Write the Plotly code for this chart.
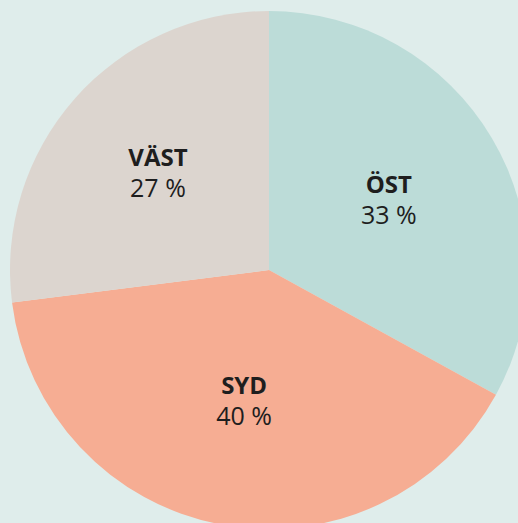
import plotly.graph_objects as go

labels = ["ÖST", "SYD", "VÄST"]
values = [33, 40, 27]
colors = ["#bcdcd8", "#f6ad93", "#dcd5cf"]

fig = go.Figure(go.Pie(
    labels=labels,
    values=values,
    sort=False,
    direction="clockwise",
    rotation=0,
    marker=dict(colors=colors, line=dict(width=0)),
    texttemplate="<b>%{label}</b><br><span style='font-size:25px'>%{value} %</span>",
    textposition="inside",
    insidetextorientation="horizontal",
    textfont=dict(family="Open Sans", size=24, color="#1e1e1e"),
    hoverinfo="none",
    showlegend=False,
))

fig.update_layout(
    width=528,
    height=529,
    margin=dict(l=10, r=0, t=11, b=0),
    paper_bgcolor="#dfedeb",
    plot_bgcolor="#dfedeb",
)

fig.write_html(
    "out.html",
    config={"displayModeBar": False},
    post_script="document.documentElement.style.overflow='hidden';document.body.style.overflow='hidden';",
)
